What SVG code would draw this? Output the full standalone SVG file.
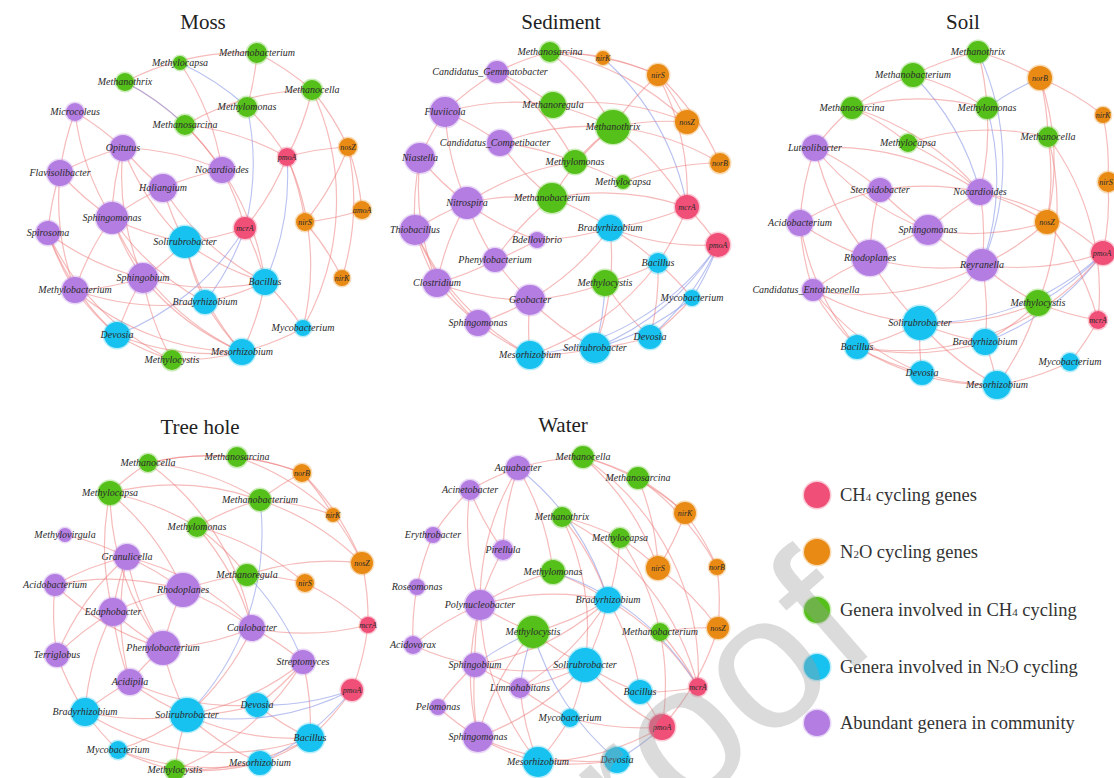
<svg xmlns="http://www.w3.org/2000/svg" width="1114" height="778" viewBox="0 0 1114 778">
<style>
.e{fill:none;stroke:#ee7777;stroke-opacity:.5;stroke-width:1.2}
.b{fill:none;stroke:#8a98e6;stroke-opacity:.6;stroke-width:1.1}
circle{stroke-width:3;stroke-opacity:.3}
.r{fill:#f04f78;stroke:#f04f78}
.o{fill:#e88a14;stroke:#e88a14}
.g{fill:#55c01a;stroke:#55c01a}
.c{fill:#18c2f0;stroke:#18c2f0}
.p{fill:#b47de2;stroke:#b47de2}
.l{font-family:"Liberation Serif",serif;font-style:italic;font-size:10px;fill:#2a2a2a;text-anchor:middle}
.gl{font-family:"Liberation Serif",serif;font-style:italic;font-size:8px;fill:#2a2a2a;text-anchor:middle}
.t{font-family:"Liberation Serif",serif;font-size:21px;fill:#222;text-anchor:middle}
.lt{font-family:"Liberation Serif",serif;font-size:18.5px;fill:#333}
</style>
<rect width="1114" height="778" fill="#fff"/>

<g id="titles">
<text class="t" x="203" y="29">Moss</text>
<text class="t" x="561" y="29">Sediment</text>
<text class="t" x="963" y="29">Soil</text>
<text class="t" x="200" y="434">Tree hole</text>
<text class="t" x="563" y="432">Water</text>
</g>

<g id="moss-edges">
<path class="e" d="M125 82A260 260 0 0 1 257 53"/>
<path class="e" d="M125 82A260 260 0 0 1 222 170"/>
<path class="b" d="M180 63A260 260 0 0 1 247 107"/>
<path class="e" d="M257 53A260 260 0 0 1 247 107"/>
<path class="e" d="M257 53A260 260 0 0 1 312 90"/>
<path class="e" d="M312 90A260 260 0 0 1 287 157"/>
<path class="e" d="M312 90A260 260 0 0 1 348 147"/>
<path class="e" d="M185 125A260 260 0 0 1 312 90"/>
<path class="e" d="M185 125A260 260 0 0 1 222 170"/>
<path class="e" d="M185 125A260 260 0 0 1 287 157"/>
<path class="b" d="M247 107A260 260 0 0 1 245 228"/>
<path class="e" d="M287 157A260 260 0 0 1 348 147"/>
<path class="e" d="M287 157A260 260 0 0 1 305 222"/>
<path class="e" d="M348 147A260 260 0 0 1 305 222"/>
<path class="e" d="M348 147A260 260 0 0 1 342 278"/>
<path class="e" d="M362 210A260 260 0 0 1 305 222"/>
<path class="e" d="M123 148A260 260 0 0 1 222 170"/>
<path class="e" d="M163 188A260 260 0 0 1 222 170"/>
<path class="e" d="M112 218A260 260 0 0 1 123 148"/>
<path class="e" d="M163 188A260 260 0 0 1 123 148"/>
<path class="e" d="M143 278A260 260 0 0 1 123 148"/>
<path class="e" d="M60 173A260 260 0 0 1 75 112"/>
<path class="e" d="M112 218A260 260 0 0 1 75 112"/>
<path class="e" d="M112 218A260 260 0 0 1 60 173"/>
<path class="e" d="M48 233A260 260 0 0 1 60 173"/>
<path class="e" d="M75 290A260 260 0 0 1 60 173"/>
<path class="e" d="M112 218A260 260 0 0 1 163 188"/>
<path class="e" d="M185 242A260 260 0 0 1 163 188"/>
<path class="e" d="M265 282A260 260 0 0 1 163 188"/>
<path class="e" d="M185 242A260 260 0 0 1 112 218"/>
<path class="e" d="M143 278A260 260 0 0 1 112 218"/>
<path class="e" d="M75 290A260 260 0 0 1 112 218"/>
<path class="e" d="M205 302A260 260 0 0 1 112 218"/>
<path class="e" d="M242 352A260 260 0 0 1 112 218"/>
<path class="e" d="M75 290A260 260 0 0 1 48 233"/>
<path class="e" d="M117 335A260 260 0 0 1 48 233"/>
<path class="e" d="M143 278A260 260 0 0 1 48 233"/>
<path class="e" d="M265 282A260 260 0 0 1 185 242"/>
<path class="e" d="M185 242A260 260 0 0 1 143 278"/>
<path class="e" d="M205 302A260 260 0 0 1 185 242"/>
<path class="e" d="M242 352A260 260 0 0 1 185 242"/>
<path class="e" d="M245 228A260 260 0 0 1 185 242"/>
<path class="e" d="M245 228A260 260 0 0 1 265 282"/>
<path class="b" d="M245 228A260 260 0 0 1 205 302"/>
<path class="b" d="M245 228A260 260 0 0 1 117 335"/>
<path class="e" d="M143 278A260 260 0 0 1 75 290"/>
<path class="e" d="M117 335A260 260 0 0 1 143 278"/>
<path class="e" d="M242 352A260 260 0 0 1 143 278"/>
<path class="e" d="M265 282A260 260 0 0 1 143 278"/>
<path class="e" d="M172 360A260 260 0 0 1 143 278"/>
<path class="e" d="M117 335A260 260 0 0 1 75 290"/>
<path class="e" d="M205 302A260 260 0 0 1 75 290"/>
<path class="e" d="M172 360A260 260 0 0 1 117 335"/>
<path class="e" d="M242 352A260 260 0 0 1 117 335"/>
<path class="e" d="M242 352A260 260 0 0 1 205 302"/>
<path class="e" d="M265 282A260 260 0 0 1 205 302"/>
<path class="e" d="M265 282A260 260 0 0 1 303 328"/>
<path class="e" d="M265 282A260 260 0 0 1 242 352"/>
<path class="e" d="M303 328A260 260 0 0 1 242 352"/>
<path class="e" d="M242 352A260 260 0 0 1 172 360"/>
<path class="e" d="M222 170A260 260 0 0 1 245 228"/>
<path class="e" d="M222 170A260 260 0 0 1 265 282"/>
<path class="e" d="M242 352A260 260 0 0 1 75 290"/>
<path class="e" d="M172 360A260 260 0 0 1 48 233"/>
<path class="e" d="M75 112A260 260 0 0 1 123 148"/>
<path class="b" d="M287 157A260 260 0 0 1 265 282"/>
<path class="e" d="M348 147A260 260 0 0 1 362 210"/>
<path class="e" d="M312 90A260 260 0 0 1 303 328"/>
<path class="e" d="M247 107A260 260 0 0 1 287 157"/>
<path class="e" d="M180 63A260 260 0 0 1 222 170"/>
<path class="b" d="M125 82A260 260 0 0 1 185 125"/>
<path class="e" d="M287 157A260 260 0 0 1 245 228"/>
<path class="e" d="M60 173A260 260 0 0 1 123 148"/>
<path class="e" d="M185 242A260 260 0 0 1 123 148"/>
<path class="e" d="M287 157A260 260 0 0 1 303 328"/>
<path class="e" d="M305 222A260 260 0 0 1 342 278"/>
</g>

<g id="sediment-edges">
<path class="e" d="M550 52A260 260 0 0 1 603 58"/>
<path class="e" d="M550 52A260 260 0 0 1 658 75"/>
<path class="e" d="M550 52A260 260 0 0 1 613 127"/>
<path class="e" d="M550 52A260 260 0 0 1 687 122"/>
<path class="e" d="M497 72A260 260 0 0 1 550 52"/>
<path class="e" d="M497 72A260 260 0 0 1 553 105"/>
<path class="e" d="M497 72A260 260 0 0 1 575 162"/>
<path class="e" d="M603 58A260 260 0 0 1 658 75"/>
<path class="b" d="M603 58A260 260 0 0 1 687 207"/>
<path class="e" d="M658 75A260 260 0 0 1 687 122"/>
<path class="e" d="M658 75A260 260 0 0 1 720 163"/>
<path class="e" d="M658 75A260 260 0 0 1 687 207"/>
<path class="e" d="M613 127A260 260 0 0 1 658 75"/>
<path class="e" d="M553 105A260 260 0 0 1 613 127"/>
<path class="e" d="M553 105A260 260 0 0 1 687 122"/>
<path class="e" d="M613 127A260 260 0 0 1 687 122"/>
<path class="e" d="M613 127A260 260 0 0 1 720 163"/>
<path class="e" d="M445 112A260 260 0 0 1 497 72"/>
<path class="e" d="M445 112A260 260 0 0 1 553 105"/>
<path class="e" d="M445 112A260 260 0 0 1 500 143"/>
<path class="e" d="M420 158A260 260 0 0 1 445 112"/>
<path class="e" d="M500 143A260 260 0 0 1 575 162"/>
<path class="e" d="M500 143A260 260 0 0 1 613 127"/>
<path class="e" d="M552 198A260 260 0 0 1 500 143"/>
<path class="e" d="M575 162A260 260 0 0 1 613 127"/>
<path class="e" d="M575 162A260 260 0 0 1 623 182"/>
<path class="e" d="M623 182A260 260 0 0 1 720 163"/>
<path class="e" d="M613 127A260 260 0 0 1 687 207"/>
<path class="e" d="M467 203A260 260 0 0 1 420 158"/>
<path class="e" d="M415 230A260 260 0 0 1 420 158"/>
<path class="e" d="M467 203A260 260 0 0 1 445 112"/>
<path class="e" d="M415 230A260 260 0 0 1 467 203"/>
<path class="e" d="M437 283A260 260 0 0 1 415 230"/>
<path class="e" d="M437 283A260 260 0 0 1 467 203"/>
<path class="e" d="M495 260A260 260 0 0 1 467 203"/>
<path class="e" d="M495 260A260 260 0 0 1 552 198"/>
<path class="e" d="M467 203A260 260 0 0 1 552 198"/>
<path class="e" d="M467 203A260 260 0 0 1 575 162"/>
<path class="e" d="M552 198A260 260 0 0 1 613 127"/>
<path class="e" d="M552 198A260 260 0 0 1 610 228"/>
<path class="e" d="M552 198A260 260 0 0 1 687 207"/>
<path class="e" d="M610 228A260 260 0 0 1 537 240"/>
<path class="e" d="M718 245A260 260 0 0 1 610 228"/>
<path class="e" d="M687 207A260 260 0 0 1 610 228"/>
<path class="e" d="M687 207A260 260 0 0 1 718 245"/>
<path class="e" d="M687 207A260 260 0 0 1 658 263"/>
<path class="e" d="M610 228A260 260 0 0 1 658 263"/>
<path class="b" d="M718 245A260 260 0 0 1 692 298"/>
<path class="b" d="M718 245A260 260 0 0 1 650 337"/>
<path class="b" d="M718 245A260 260 0 0 1 595 348"/>
<path class="e" d="M658 263A260 260 0 0 1 692 298"/>
<path class="e" d="M658 263A260 260 0 0 1 650 337"/>
<path class="e" d="M605 283A260 260 0 0 1 530 300"/>
<path class="e" d="M658 263A260 260 0 0 1 605 283"/>
<path class="e" d="M530 300A260 260 0 0 1 478 323"/>
<path class="e" d="M530 355A260 260 0 0 1 530 300"/>
<path class="e" d="M595 348A260 260 0 0 1 530 300"/>
<path class="e" d="M650 337A260 260 0 0 1 595 348"/>
<path class="e" d="M595 348A260 260 0 0 1 530 355"/>
<path class="e" d="M530 355A260 260 0 0 1 478 323"/>
<path class="e" d="M478 323A260 260 0 0 1 437 283"/>
<path class="e" d="M495 260A260 260 0 0 1 437 283"/>
<path class="e" d="M530 300A260 260 0 0 1 495 260"/>
<path class="e" d="M530 300A260 260 0 0 1 437 283"/>
<path class="e" d="M537 240A260 260 0 0 1 495 260"/>
<path class="b" d="M605 283A260 260 0 0 1 595 348"/>
<path class="e" d="M692 298A260 260 0 0 1 650 337"/>
<path class="e" d="M610 228A260 260 0 0 1 595 348"/>
<path class="e" d="M610 228A260 260 0 0 1 530 300"/>
<path class="e" d="M658 263A260 260 0 0 1 530 355"/>
<path class="e" d="M530 355A260 260 0 0 1 415 230"/>
<path class="e" d="M478 323A260 260 0 0 1 415 230"/>
<path class="e" d="M650 337A260 260 0 0 1 605 283"/>
<path class="e" d="M437 283A260 260 0 0 1 420 158"/>
<path class="e" d="M537 240A260 260 0 0 1 467 203"/>
<path class="b" d="M718 245A260 260 0 0 1 530 355"/>
<path class="b" d="M692 298A260 260 0 0 1 595 348"/>
</g>

<g id="soil-edges">
<path class="e" d="M913 75A260 260 0 0 1 978 52"/>
<path class="e" d="M852 108A260 260 0 0 1 913 75"/>
<path class="e" d="M978 52A260 260 0 0 1 1040 78"/>
<path class="e" d="M913 75A260 260 0 0 1 987 108"/>
<path class="b" d="M913 75A260 260 0 0 1 980 192"/>
<path class="e" d="M978 52A260 260 0 0 1 987 108"/>
<path class="b" d="M978 52A260 260 0 0 1 982 265"/>
<path class="e" d="M987 108A260 260 0 0 1 980 192"/>
<path class="b" d="M987 108A260 260 0 0 1 1040 78"/>
<path class="e" d="M852 108A260 260 0 0 1 908 143"/>
<path class="e" d="M852 108A260 260 0 0 1 987 108"/>
<path class="e" d="M852 108A260 260 0 0 1 980 192"/>
<path class="e" d="M908 143A260 260 0 0 1 980 192"/>
<path class="e" d="M908 143A260 260 0 0 1 1048 137"/>
<path class="e" d="M1040 78A260 260 0 0 1 1048 137"/>
<path class="e" d="M1040 78A260 260 0 0 1 1047 222"/>
<path class="e" d="M1040 78A260 260 0 0 1 1103 115"/>
<path class="e" d="M1103 115A260 260 0 0 1 1108 182"/>
<path class="e" d="M1048 137A260 260 0 0 1 1047 222"/>
<path class="e" d="M1048 137A260 260 0 0 1 1038 303"/>
<path class="e" d="M980 192A260 260 0 0 1 1047 222"/>
<path class="e" d="M980 192A260 260 0 0 1 982 265"/>
<path class="e" d="M980 192A260 260 0 0 1 1103 253"/>
<path class="e" d="M880 190A260 260 0 0 1 980 192"/>
<path class="e" d="M928 230A260 260 0 0 1 880 190"/>
<path class="e" d="M815 148A260 260 0 0 1 880 190"/>
<path class="e" d="M928 230A260 260 0 0 1 815 148"/>
<path class="e" d="M815 148A260 260 0 0 1 852 108"/>
<path class="e" d="M800 223A260 260 0 0 1 815 148"/>
<path class="e" d="M800 223A260 260 0 0 1 880 190"/>
<path class="e" d="M813 290A260 260 0 0 1 800 223"/>
<path class="e" d="M870 258A260 260 0 0 1 800 223"/>
<path class="e" d="M870 258A260 260 0 0 1 880 190"/>
<path class="e" d="M870 258A260 260 0 0 1 928 230"/>
<path class="e" d="M928 230A260 260 0 0 1 980 192"/>
<path class="e" d="M1047 222A260 260 0 0 1 928 230"/>
<path class="e" d="M982 265A260 260 0 0 1 928 230"/>
<path class="e" d="M982 265A260 260 0 0 1 870 258"/>
<path class="e" d="M982 265A260 260 0 0 1 813 290"/>
<path class="e" d="M1047 222A260 260 0 0 1 982 265"/>
<path class="e" d="M1103 253A260 260 0 0 1 982 265"/>
<path class="b" d="M1103 253A260 260 0 0 1 1038 303"/>
<path class="b" d="M1103 253A260 260 0 0 1 920 323"/>
<path class="b" d="M1103 253A260 260 0 0 1 985 342"/>
<path class="e" d="M1103 253A260 260 0 0 1 857 347"/>
<path class="e" d="M1098 320A260 260 0 0 1 1038 303"/>
<path class="e" d="M1038 303A260 260 0 0 1 982 265"/>
<path class="e" d="M1038 303A260 260 0 0 1 920 323"/>
<path class="e" d="M1038 303A260 260 0 0 1 985 342"/>
<path class="e" d="M1070 362A260 260 0 0 1 997 385"/>
<path class="e" d="M1098 320A260 260 0 0 1 1070 362"/>
<path class="e" d="M982 265A260 260 0 0 1 920 323"/>
<path class="e" d="M982 265A260 260 0 0 1 985 342"/>
<path class="e" d="M920 323A260 260 0 0 1 870 258"/>
<path class="e" d="M920 323A260 260 0 0 1 857 347"/>
<path class="e" d="M920 323A260 260 0 0 1 813 290"/>
<path class="e" d="M985 342A260 260 0 0 1 920 323"/>
<path class="e" d="M985 342A260 260 0 0 1 857 347"/>
<path class="e" d="M922 373A260 260 0 0 1 920 323"/>
<path class="e" d="M922 373A260 260 0 0 1 857 347"/>
<path class="e" d="M997 385A260 260 0 0 1 922 373"/>
<path class="e" d="M997 385A260 260 0 0 1 920 323"/>
<path class="e" d="M985 342A260 260 0 0 1 997 385"/>
<path class="e" d="M857 347A260 260 0 0 1 813 290"/>
<path class="e" d="M857 347A260 260 0 0 1 800 223"/>
<path class="e" d="M922 373A260 260 0 0 1 813 290"/>
<path class="e" d="M997 385A260 260 0 0 1 857 347"/>
<path class="e" d="M813 290A260 260 0 0 1 870 258"/>
<path class="e" d="M1108 182A260 260 0 0 1 1103 253"/>
<path class="e" d="M1047 222A260 260 0 0 1 1098 320"/>
<path class="e" d="M870 258A260 260 0 0 1 815 148"/>
<path class="e" d="M1038 303A260 260 0 0 1 997 385"/>
<path class="e" d="M1048 137A260 260 0 0 1 1098 320"/>
<path class="b" d="M987 108A260 260 0 0 1 982 265"/>
<path class="e" d="M815 148A260 260 0 0 1 980 192"/>
</g>

<g id="treehole-edges">
<path class="e" d="M148 463A260 260 0 0 1 237 457"/>
<path class="e" d="M148 463A260 260 0 0 1 302 473"/>
<path class="e" d="M110 493A260 260 0 0 1 148 463"/>
<path class="e" d="M110 493A260 260 0 0 1 197 527"/>
<path class="e" d="M110 493A260 260 0 0 1 260 500"/>
<path class="e" d="M110 493A260 260 0 0 1 183 590"/>
<path class="e" d="M163 648A260 260 0 0 1 110 493"/>
<path class="e" d="M148 463A260 260 0 0 1 260 500"/>
<path class="e" d="M148 463A260 260 0 0 1 252 628"/>
<path class="e" d="M237 457A260 260 0 0 1 302 473"/>
<path class="e" d="M237 457A260 260 0 0 1 333 515"/>
<path class="e" d="M260 500A260 260 0 0 1 302 473"/>
<path class="e" d="M260 500A260 260 0 0 1 333 515"/>
<path class="e" d="M260 500A260 260 0 0 1 362 563"/>
<path class="e" d="M197 527A260 260 0 0 1 260 500"/>
<path class="e" d="M197 527A260 260 0 0 1 247 575"/>
<path class="e" d="M197 527A260 260 0 0 1 305 583"/>
<path class="e" d="M197 527A260 260 0 0 1 252 628"/>
<path class="e" d="M302 473A260 260 0 0 1 362 563"/>
<path class="e" d="M302 473A260 260 0 0 1 333 515"/>
<path class="e" d="M333 515A260 260 0 0 1 362 563"/>
<path class="e" d="M247 575A260 260 0 0 1 305 583"/>
<path class="e" d="M247 575A260 260 0 0 1 362 563"/>
<path class="b" d="M247 575A260 260 0 0 1 303 662"/>
<path class="b" d="M260 500A260 260 0 0 1 187 715"/>
<path class="e" d="M65 535A260 260 0 0 1 127 557"/>
<path class="e" d="M127 557A260 260 0 0 1 183 590"/>
<path class="e" d="M55 585A260 260 0 0 1 127 557"/>
<path class="e" d="M113 612A260 260 0 0 1 127 557"/>
<path class="e" d="M57 655A260 260 0 0 1 127 557"/>
<path class="e" d="M163 648A260 260 0 0 1 127 557"/>
<path class="e" d="M130 682A260 260 0 0 1 127 557"/>
<path class="e" d="M113 612A260 260 0 0 1 183 590"/>
<path class="e" d="M55 585A260 260 0 0 1 183 590"/>
<path class="e" d="M163 648A260 260 0 0 1 183 590"/>
<path class="e" d="M183 590A260 260 0 0 1 252 628"/>
<path class="e" d="M183 590A260 260 0 0 1 247 575"/>
<path class="e" d="M163 648A260 260 0 0 1 55 585"/>
<path class="e" d="M57 655A260 260 0 0 1 55 585"/>
<path class="e" d="M57 655A260 260 0 0 1 113 612"/>
<path class="e" d="M130 682A260 260 0 0 1 113 612"/>
<path class="e" d="M163 648A260 260 0 0 1 113 612"/>
<path class="e" d="M85 712A260 260 0 0 1 113 612"/>
<path class="e" d="M187 715A260 260 0 0 1 163 648"/>
<path class="e" d="M252 628A260 260 0 0 1 163 648"/>
<path class="e" d="M130 682A260 260 0 0 1 163 648"/>
<path class="e" d="M85 712A260 260 0 0 1 57 655"/>
<path class="e" d="M85 712A260 260 0 0 1 130 682"/>
<path class="e" d="M187 715A260 260 0 0 1 130 682"/>
<path class="e" d="M187 715A260 260 0 0 1 85 712"/>
<path class="e" d="M257 705A260 260 0 0 1 187 715"/>
<path class="e" d="M310 738A260 260 0 0 1 187 715"/>
<path class="e" d="M260 763A260 260 0 0 1 187 715"/>
<path class="e" d="M187 715A260 260 0 0 1 118 750"/>
<path class="e" d="M175 770A260 260 0 0 1 187 715"/>
<path class="e" d="M118 750A260 260 0 0 1 85 712"/>
<path class="e" d="M260 763A260 260 0 0 1 175 770"/>
<path class="e" d="M310 738A260 260 0 0 1 260 763"/>
<path class="e" d="M310 738A260 260 0 0 1 257 705"/>
<path class="e" d="M303 662A260 260 0 0 1 257 705"/>
<path class="e" d="M303 662A260 260 0 0 1 310 738"/>
<path class="e" d="M352 690A260 260 0 0 1 310 738"/>
<path class="b" d="M352 690A260 260 0 0 1 257 705"/>
<path class="b" d="M352 690A260 260 0 0 1 187 715"/>
<path class="e" d="M368 625A260 260 0 0 1 352 690"/>
<path class="e" d="M362 563A260 260 0 0 1 368 625"/>
<path class="e" d="M305 583A260 260 0 0 1 368 625"/>
<path class="e" d="M252 628A260 260 0 0 1 303 662"/>
<path class="e" d="M368 625A260 260 0 0 1 252 628"/>
<path class="e" d="M310 738A260 260 0 0 1 175 770"/>
<path class="e" d="M310 738A260 260 0 0 1 85 712"/>
<path class="e" d="M260 763A260 260 0 0 1 118 750"/>
<path class="e" d="M175 770A260 260 0 0 1 118 750"/>
<path class="e" d="M257 705A260 260 0 0 1 130 682"/>
<path class="e" d="M252 628A260 260 0 0 1 187 715"/>
<path class="e" d="M303 662A260 260 0 0 1 187 715"/>
<path class="e" d="M127 557A260 260 0 0 1 252 628"/>
<path class="e" d="M113 612A260 260 0 0 1 110 493"/>
<path class="b" d="M352 690A260 260 0 0 1 260 763"/>
<path class="e" d="M303 662A260 260 0 0 1 175 770"/>
</g>

<g id="water-edges">
<path class="e" d="M583 457A260 260 0 0 1 638 478"/>
<path class="e" d="M583 457A260 260 0 0 1 685 513"/>
<path class="e" d="M583 457A260 260 0 0 1 658 568"/>
<path class="e" d="M583 457A260 260 0 0 1 698 687"/>
<path class="e" d="M638 478A260 260 0 0 1 685 513"/>
<path class="e" d="M638 478A260 260 0 0 1 658 568"/>
<path class="e" d="M638 478A260 260 0 0 1 717 567"/>
<path class="e" d="M518 468A260 260 0 0 1 583 457"/>
<path class="e" d="M470 490A260 260 0 0 1 518 468"/>
<path class="e" d="M433 535A260 260 0 0 1 470 490"/>
<path class="e" d="M503 550A260 260 0 0 1 470 490"/>
<path class="e" d="M503 550A260 260 0 0 1 518 468"/>
<path class="e" d="M518 468A260 260 0 0 1 553 572"/>
<path class="b" d="M518 468A260 260 0 0 1 608 600"/>
<path class="e" d="M480 605A260 260 0 0 1 518 468"/>
<path class="e" d="M562 517A260 260 0 0 1 608 600"/>
<path class="e" d="M562 517A260 260 0 0 1 585 665"/>
<path class="e" d="M562 517A260 260 0 0 1 620 538"/>
<path class="e" d="M620 538A260 260 0 0 1 658 568"/>
<path class="e" d="M620 538A260 260 0 0 1 608 600"/>
<path class="e" d="M620 538A260 260 0 0 1 660 632"/>
<path class="e" d="M685 513A260 260 0 0 1 658 568"/>
<path class="e" d="M685 513A260 260 0 0 1 717 567"/>
<path class="e" d="M717 567A260 260 0 0 1 718 628"/>
<path class="e" d="M658 568A260 260 0 0 1 718 628"/>
<path class="e" d="M660 632A260 260 0 0 1 698 687"/>
<path class="e" d="M417 587A260 260 0 0 1 433 535"/>
<path class="e" d="M413 645A260 260 0 0 1 417 587"/>
<path class="e" d="M480 605A260 260 0 0 1 470 490"/>
<path class="e" d="M480 605A260 260 0 0 1 503 550"/>
<path class="e" d="M480 605A260 260 0 0 1 553 572"/>
<path class="e" d="M533 632A260 260 0 0 1 480 605"/>
<path class="e" d="M553 572A260 260 0 0 1 608 600"/>
<path class="e" d="M480 605A260 260 0 0 1 608 600"/>
<path class="e" d="M608 600A260 260 0 0 1 533 632"/>
<path class="e" d="M608 600A260 260 0 0 1 585 665"/>
<path class="e" d="M608 600A260 260 0 0 1 640 692"/>
<path class="e" d="M608 600A260 260 0 0 1 698 687"/>
<path class="e" d="M608 600A260 260 0 0 1 520 688"/>
<path class="e" d="M608 600A260 260 0 0 1 475 665"/>
<path class="b" d="M520 688A260 260 0 0 1 533 632"/>
<path class="b" d="M475 665A260 260 0 0 1 533 632"/>
<path class="e" d="M585 665A260 260 0 0 1 533 632"/>
<path class="e" d="M478 737A260 260 0 0 1 533 632"/>
<path class="e" d="M585 665A260 260 0 0 1 520 688"/>
<path class="e" d="M585 665A260 260 0 0 1 478 737"/>
<path class="e" d="M585 665A260 260 0 0 1 475 665"/>
<path class="e" d="M585 665A260 260 0 0 1 570 718"/>
<path class="e" d="M640 692A260 260 0 0 1 585 665"/>
<path class="e" d="M698 687A260 260 0 0 1 640 692"/>
<path class="e" d="M662 727A260 260 0 0 1 585 665"/>
<path class="b" d="M662 727A260 260 0 0 1 617 760"/>
<path class="e" d="M662 727A260 260 0 0 1 570 718"/>
<path class="e" d="M662 727A260 260 0 0 1 538 762"/>
<path class="e" d="M640 692A260 260 0 0 1 662 727"/>
<path class="e" d="M617 760A260 260 0 0 1 478 737"/>
<path class="e" d="M538 762A260 260 0 0 1 478 737"/>
<path class="e" d="M570 718A260 260 0 0 1 538 762"/>
<path class="e" d="M478 737A260 260 0 0 1 438 707"/>
<path class="e" d="M478 737A260 260 0 0 1 475 665"/>
<path class="e" d="M520 688A260 260 0 0 1 475 665"/>
<path class="e" d="M538 762A260 260 0 0 1 520 688"/>
<path class="e" d="M475 665A260 260 0 0 1 413 645"/>
<path class="e" d="M475 665A260 260 0 0 1 480 605"/>
<path class="e" d="M438 707A260 260 0 0 1 475 665"/>
<path class="e" d="M413 645A260 260 0 0 1 480 605"/>
<path class="e" d="M660 632A260 260 0 0 1 662 727"/>
<path class="e" d="M617 760A260 260 0 0 1 538 762"/>
<path class="e" d="M570 718A260 260 0 0 1 520 688"/>
<path class="e" d="M718 628A260 260 0 0 1 662 727"/>
<path class="e" d="M660 632A260 260 0 0 1 718 628"/>
<path class="e" d="M538 762A260 260 0 0 1 480 605"/>
<path class="e" d="M478 737A260 260 0 0 1 480 605"/>
<path class="b" d="M553 572A260 260 0 0 1 698 687"/>
<path class="b" d="M617 760A260 260 0 0 1 533 632"/>
<path class="e" d="M562 517A260 260 0 0 1 698 687"/>
</g>

<g id="moss-nodes">
<g id="moss-methanobacterium"><circle class="g" cx="257" cy="53" r="10"/><text class="l" x="257" y="56">Methanobacterium</text></g>
<g id="moss-methylocapsa"><circle class="g" cx="180" cy="63" r="7"/><text class="l" x="180" y="66">Methylocapsa</text></g>
<g id="moss-methanothrix"><circle class="g" cx="125" cy="82" r="9"/><text class="l" x="125" y="85">Methanothrix</text></g>
<g id="moss-methanocella"><circle class="g" cx="312" cy="90" r="10"/><text class="l" x="312" y="93">Methanocella</text></g>
<g id="moss-methylomonas"><circle class="g" cx="247" cy="107" r="10"/><text class="l" x="247" y="110">Methylomonas</text></g>
<g id="moss-methanosarcina"><circle class="g" cx="185" cy="125" r="10"/><text class="l" x="185" y="128">Methanosarcina</text></g>
<g id="moss-microcoleus"><circle class="p" cx="75" cy="112" r="9"/><text class="l" x="75" y="115">Microcoleus</text></g>
<g id="moss-opitutus"><circle class="p" cx="123" cy="148" r="13"/><text class="l" x="123" y="151">Opitutus</text></g>
<g id="moss-pmoa"><circle class="r" cx="287" cy="157" r="9"/><text class="gl" x="287" y="160">pmoA</text></g>
<g id="moss-nosz"><circle class="o" cx="348" cy="147" r="9"/><text class="gl" x="348" y="150">nosZ</text></g>
<g id="moss-nocardioides"><circle class="p" cx="222" cy="170" r="13"/><text class="l" x="222" y="173">Nocardioides</text></g>
<g id="moss-flavisolibacter"><circle class="p" cx="60" cy="173" r="13"/><text class="l" x="60" y="176">Flavisolibacter</text></g>
<g id="moss-haliangium"><circle class="p" cx="163" cy="188" r="14"/><text class="l" x="163" y="191">Haliangium</text></g>
<g id="moss-sphingomonas"><circle class="p" cx="112" cy="218" r="16"/><text class="l" x="112" y="221">Sphingomonas</text></g>
<g id="moss-spirosoma"><circle class="p" cx="48" cy="233" r="12"/><text class="l" x="48" y="236">Spirosoma</text></g>
<g id="moss-mcra"><circle class="r" cx="245" cy="228" r="11"/><text class="gl" x="245" y="231">mcrA</text></g>
<g id="moss-nirs"><circle class="o" cx="305" cy="222" r="9"/><text class="gl" x="305" y="225">nirS</text></g>
<g id="moss-amoa"><circle class="o" cx="362" cy="210" r="9"/><text class="gl" x="362" y="213">amoA</text></g>
<g id="moss-solirubrobacter"><circle class="c" cx="185" cy="242" r="16"/><text class="l" x="185" y="245">Solirubrobacter</text></g>
<g id="moss-sphingobium"><circle class="p" cx="143" cy="278" r="15"/><text class="l" x="143" y="281">Sphingobium</text></g>
<g id="moss-methylobacterium"><circle class="p" cx="75" cy="290" r="13"/><text class="l" x="75" y="293">Methylobacterium</text></g>
<g id="moss-bacillus"><circle class="c" cx="265" cy="282" r="13"/><text class="l" x="265" y="285">Bacillus</text></g>
<g id="moss-nirk"><circle class="o" cx="342" cy="278" r="8"/><text class="gl" x="342" y="281">nirK</text></g>
<g id="moss-bradyrhizobium"><circle class="c" cx="205" cy="302" r="12"/><text class="l" x="205" y="305">Bradyrhizobium</text></g>
<g id="moss-mycobacterium"><circle class="c" cx="303" cy="328" r="8"/><text class="l" x="303" y="331">Mycobacterium</text></g>
<g id="moss-devosia"><circle class="c" cx="117" cy="335" r="13"/><text class="l" x="117" y="338">Devosia</text></g>
<g id="moss-methylocystis"><circle class="g" cx="172" cy="360" r="10"/><text class="l" x="172" y="363">Methylocystis</text></g>
<g id="moss-mesorhizobium"><circle class="c" cx="242" cy="352" r="13"/><text class="l" x="242" y="355">Mesorhizobium</text></g>
</g>

<g id="sediment-nodes">
<g id="sed-methanosarcina"><circle class="g" cx="550" cy="52" r="10"/><text class="l" x="550" y="55">Methanosarcina</text></g>
<g id="sed-nirk"><circle class="o" cx="603" cy="58" r="7"/><text class="gl" x="603" y="61">nirK</text></g>
<g id="sed-gemmatobacter"><circle class="p" cx="497" cy="72" r="11"/><text class="l" x="490" y="75">Candidatus_Gemmatobacter</text></g>
<g id="sed-nirs"><circle class="o" cx="658" cy="75" r="11"/><text class="gl" x="658" y="78">nirS</text></g>
<g id="sed-fluviicola"><circle class="p" cx="445" cy="112" r="15"/><text class="l" x="445" y="115">Fluviicola</text></g>
<g id="sed-methanoregula"><circle class="g" cx="553" cy="105" r="13"/><text class="l" x="553" y="108">Methanoregula</text></g>
<g id="sed-methanothrix"><circle class="g" cx="613" cy="127" r="17"/><text class="l" x="613" y="130">Methanothrix</text></g>
<g id="sed-nosz"><circle class="o" cx="687" cy="122" r="12"/><text class="gl" x="687" y="125">nosZ</text></g>
<g id="sed-competibacter"><circle class="p" cx="500" cy="143" r="13"/><text class="l" x="495" y="146">Candidatus_Competibacter</text></g>
<g id="sed-methylomonas"><circle class="g" cx="575" cy="162" r="12"/><text class="l" x="575" y="165">Methylomonas</text></g>
<g id="sed-norb"><circle class="o" cx="720" cy="163" r="10"/><text class="gl" x="720" y="166">norB</text></g>
<g id="sed-niastella"><circle class="p" cx="420" cy="158" r="15"/><text class="l" x="420" y="161">Niastella</text></g>
<g id="sed-methylocapsa"><circle class="g" cx="623" cy="182" r="7"/><text class="l" x="623" y="185">Methylocapsa</text></g>
<g id="sed-methanobacterium"><circle class="g" cx="552" cy="198" r="15"/><text class="l" x="552" y="201">Methanobacterium</text></g>
<g id="sed-nitrospira"><circle class="p" cx="467" cy="203" r="16"/><text class="l" x="467" y="206">Nitrospira</text></g>
<g id="sed-mcra"><circle class="r" cx="687" cy="207" r="12"/><text class="gl" x="687" y="210">mcrA</text></g>
<g id="sed-thiobacillus"><circle class="p" cx="415" cy="230" r="15"/><text class="l" x="415" y="233">Thiobacillus</text></g>
<g id="sed-bradyrhizobium"><circle class="c" cx="610" cy="228" r="13"/><text class="l" x="610" y="231">Bradyrhizobium</text></g>
<g id="sed-bdellovibrio"><circle class="p" cx="537" cy="240" r="8"/><text class="l" x="537" y="243">Bdellovibrio</text></g>
<g id="sed-pmoa"><circle class="r" cx="718" cy="245" r="12"/><text class="gl" x="718" y="248">pmoA</text></g>
<g id="sed-phenylobacterium"><circle class="p" cx="495" cy="260" r="12"/><text class="l" x="495" y="263">Phenylobacterium</text></g>
<g id="sed-bacillus"><circle class="c" cx="658" cy="263" r="10"/><text class="l" x="658" y="266">Bacillus</text></g>
<g id="sed-clostridium"><circle class="p" cx="437" cy="283" r="14"/><text class="l" x="437" y="286">Clostridium</text></g>
<g id="sed-methylocystis"><circle class="g" cx="605" cy="283" r="13"/><text class="l" x="605" y="286">Methylocystis</text></g>
<g id="sed-mycobacterium"><circle class="c" cx="692" cy="298" r="8"/><text class="l" x="692" y="301">Mycobacterium</text></g>
<g id="sed-geobacter"><circle class="p" cx="530" cy="300" r="15"/><text class="l" x="530" y="303">Geobacter</text></g>
<g id="sed-sphingomonas"><circle class="p" cx="478" cy="323" r="13"/><text class="l" x="478" y="326">Sphingomonas</text></g>
<g id="sed-devosia"><circle class="c" cx="650" cy="337" r="12"/><text class="l" x="650" y="340">Devosia</text></g>
<g id="sed-solirubrobacter"><circle class="c" cx="595" cy="348" r="15"/><text class="l" x="595" y="351">Solirubrobacter</text></g>
<g id="sed-mesorhizobium"><circle class="c" cx="530" cy="355" r="14"/><text class="l" x="530" y="358">Mesorhizobium</text></g>
</g>

<g id="soil-nodes">
<g id="soil-methanothrix"><circle class="g" cx="978" cy="52" r="11"/><text class="l" x="978" y="55">Methanothrix</text></g>
<g id="soil-methanobacterium"><circle class="g" cx="913" cy="75" r="12"/><text class="l" x="913" y="78">Methanobacterium</text></g>
<g id="soil-norb"><circle class="o" cx="1040" cy="78" r="12"/><text class="gl" x="1040" y="81">norB</text></g>
<g id="soil-methanosarcina"><circle class="g" cx="852" cy="108" r="11"/><text class="l" x="852" y="111">Methanosarcina</text></g>
<g id="soil-methylomonas"><circle class="g" cx="987" cy="108" r="11"/><text class="l" x="987" y="111">Methylomonas</text></g>
<g id="soil-nirk"><circle class="o" cx="1103" cy="115" r="8"/><text class="gl" x="1103" y="118">nirK</text></g>
<g id="soil-methylocapsa"><circle class="g" cx="908" cy="143" r="9"/><text class="l" x="908" y="146">Methylocapsa</text></g>
<g id="soil-methanocella"><circle class="g" cx="1048" cy="137" r="10"/><text class="l" x="1048" y="140">Methanocella</text></g>
<g id="soil-luteolibacter"><circle class="p" cx="815" cy="148" r="13"/><text class="l" x="815" y="151">Luteolibacter</text></g>
<g id="soil-nirs"><circle class="o" cx="1108" cy="182" r="10"/><text class="gl" x="1106" y="185">nirS</text></g>
<g id="soil-steroidobacter"><circle class="p" cx="880" cy="190" r="12"/><text class="l" x="880" y="193">Steroidobacter</text></g>
<g id="soil-nocardioides"><circle class="p" cx="980" cy="192" r="13"/><text class="l" x="980" y="195">Nocardioides</text></g>
<g id="soil-acidobacterium"><circle class="p" cx="800" cy="223" r="13"/><text class="l" x="800" y="226">Acidobacterium</text></g>
<g id="soil-sphingomonas"><circle class="p" cx="928" cy="230" r="15"/><text class="l" x="928" y="233">Sphingomonas</text></g>
<g id="soil-nosz"><circle class="o" cx="1047" cy="222" r="12"/><text class="gl" x="1047" y="225">nosZ</text></g>
<g id="soil-rhodoplanes"><circle class="p" cx="870" cy="258" r="18"/><text class="l" x="870" y="261">Rhodoplanes</text></g>
<g id="soil-reyranella"><circle class="p" cx="982" cy="265" r="16"/><text class="l" x="982" y="268">Reyranella</text></g>
<g id="soil-pmoa"><circle class="r" cx="1103" cy="253" r="12"/><text class="gl" x="1102" y="256">pmoA</text></g>
<g id="soil-entotheonella"><circle class="p" cx="813" cy="290" r="11"/><text class="l" x="806" y="293">Candidatus_Entotheonella</text></g>
<g id="soil-methylocystis"><circle class="g" cx="1038" cy="303" r="13"/><text class="l" x="1038" y="306">Methylocystis</text></g>
<g id="soil-mcra"><circle class="r" cx="1098" cy="320" r="9"/><text class="gl" x="1098" y="323">mcrA</text></g>
<g id="soil-solirubrobacter"><circle class="c" cx="920" cy="323" r="17"/><text class="l" x="920" y="326">Solirubrobacter</text></g>
<g id="soil-bradyrhizobium"><circle class="c" cx="985" cy="342" r="13"/><text class="l" x="985" y="345">Bradyrhizobium</text></g>
<g id="soil-bacillus"><circle class="c" cx="857" cy="347" r="12"/><text class="l" x="857" y="350">Bacillus</text></g>
<g id="soil-mycobacterium"><circle class="c" cx="1070" cy="362" r="9"/><text class="l" x="1070" y="365">Mycobacterium</text></g>
<g id="soil-devosia"><circle class="c" cx="922" cy="373" r="12"/><text class="l" x="922" y="376">Devosia</text></g>
<g id="soil-mesorhizobium"><circle class="c" cx="997" cy="385" r="14"/><text class="l" x="997" y="388">Mesorhizobium</text></g>
</g>

<g id="treehole-nodes">
<g id="th-methanocella"><circle class="g" cx="148" cy="463" r="9"/><text class="l" x="148" y="466">Methanocella</text></g>
<g id="th-methanosarcina"><circle class="g" cx="237" cy="457" r="10"/><text class="l" x="237" y="460">Methanosarcina</text></g>
<g id="th-norb"><circle class="o" cx="302" cy="473" r="9"/><text class="gl" x="302" y="476">norB</text></g>
<g id="th-methylocapsa"><circle class="g" cx="110" cy="493" r="12"/><text class="l" x="110" y="496">Methylocapsa</text></g>
<g id="th-methanobacterium"><circle class="g" cx="260" cy="500" r="11"/><text class="l" x="260" y="503">Methanobacterium</text></g>
<g id="th-nirk"><circle class="o" cx="333" cy="515" r="7"/><text class="gl" x="333" y="518">nirK</text></g>
<g id="th-methylomonas"><circle class="g" cx="197" cy="527" r="10"/><text class="l" x="197" y="530">Methylomonas</text></g>
<g id="th-methylovirgula"><circle class="p" cx="65" cy="535" r="7"/><text class="l" x="65" y="538">Methylovirgula</text></g>
<g id="th-granulicella"><circle class="p" cx="127" cy="557" r="13"/><text class="l" x="127" y="560">Granulicella</text></g>
<g id="th-nosz"><circle class="o" cx="362" cy="563" r="11"/><text class="gl" x="362" y="566">nosZ</text></g>
<g id="th-methanoregula"><circle class="g" cx="247" cy="575" r="11"/><text class="l" x="247" y="578">Methanoregula</text></g>
<g id="th-nirs"><circle class="o" cx="305" cy="583" r="9"/><text class="gl" x="305" y="586">nirS</text></g>
<g id="th-acidobacterium"><circle class="p" cx="55" cy="585" r="11"/><text class="l" x="55" y="588">Acidobacterium</text></g>
<g id="th-rhodoplanes"><circle class="p" cx="183" cy="590" r="17"/><text class="l" x="183" y="593">Rhodoplanes</text></g>
<g id="th-edaphobacter"><circle class="p" cx="113" cy="612" r="14"/><text class="l" x="113" y="615">Edaphobacter</text></g>
<g id="th-caulobacter"><circle class="p" cx="252" cy="628" r="13"/><text class="l" x="252" y="631">Caulobacter</text></g>
<g id="th-mcra"><circle class="r" cx="368" cy="625" r="8"/><text class="gl" x="368" y="628">mcrA</text></g>
<g id="th-phenylobacterium"><circle class="p" cx="163" cy="648" r="17"/><text class="l" x="163" y="651">Phenylobacterium</text></g>
<g id="th-terriglobus"><circle class="p" cx="57" cy="655" r="12"/><text class="l" x="57" y="658">Terriglobus</text></g>
<g id="th-streptomyces"><circle class="p" cx="303" cy="662" r="12"/><text class="l" x="303" y="665">Streptomyces</text></g>
<g id="th-acidipila"><circle class="p" cx="130" cy="682" r="13"/><text class="l" x="130" y="685">Acidipila</text></g>
<g id="th-pmoa"><circle class="r" cx="352" cy="690" r="11"/><text class="gl" x="352" y="693">pmoA</text></g>
<g id="th-bradyrhizobium"><circle class="c" cx="85" cy="712" r="14"/><text class="l" x="85" y="715">Bradyrhizobium</text></g>
<g id="th-solirubrobacter"><circle class="c" cx="187" cy="715" r="17"/><text class="l" x="187" y="718">Solirubrobacter</text></g>
<g id="th-devosia"><circle class="c" cx="257" cy="705" r="12"/><text class="l" x="257" y="708">Devosia</text></g>
<g id="th-bacillus"><circle class="c" cx="310" cy="738" r="14"/><text class="l" x="310" y="741">Bacillus</text></g>
<g id="th-mycobacterium"><circle class="c" cx="118" cy="750" r="9"/><text class="l" x="118" y="753">Mycobacterium</text></g>
<g id="th-methylocystis"><circle class="g" cx="175" cy="770" r="10"/><text class="l" x="175" y="773">Methylocystis</text></g>
<g id="th-mesorhizobium"><circle class="c" cx="260" cy="763" r="12"/><text class="l" x="260" y="766">Mesorhizobium</text></g>
</g>

<g id="water-nodes">
<g id="w-methanocella"><circle class="g" cx="583" cy="457" r="11"/><text class="l" x="583" y="460">Methanocella</text></g>
<g id="w-aquabacter"><circle class="p" cx="518" cy="468" r="12"/><text class="l" x="518" y="471">Aquabacter</text></g>
<g id="w-methanosarcina"><circle class="g" cx="638" cy="478" r="11"/><text class="l" x="638" y="481">Methanosarcina</text></g>
<g id="w-acinetobacter"><circle class="p" cx="470" cy="490" r="10"/><text class="l" x="470" y="493">Acinetobacter</text></g>
<g id="w-nirk"><circle class="o" cx="685" cy="513" r="11"/><text class="gl" x="685" y="516">nirK</text></g>
<g id="w-methanothrix"><circle class="g" cx="562" cy="517" r="10"/><text class="l" x="562" y="520">Methanothrix</text></g>
<g id="w-erythrobacter"><circle class="p" cx="433" cy="535" r="8"/><text class="l" x="433" y="538">Erythrobacter</text></g>
<g id="w-methylocapsa"><circle class="g" cx="620" cy="538" r="10"/><text class="l" x="620" y="541">Methylocapsa</text></g>
<g id="w-pirellula"><circle class="p" cx="503" cy="550" r="10"/><text class="l" x="503" y="553">Pirellula</text></g>
<g id="w-nirs"><circle class="o" cx="658" cy="568" r="12"/><text class="gl" x="658" y="571">nirS</text></g>
<g id="w-norb"><circle class="o" cx="717" cy="567" r="8"/><text class="gl" x="717" y="570">norB</text></g>
<g id="w-methylomonas"><circle class="g" cx="553" cy="572" r="12"/><text class="l" x="553" y="575">Methylomonas</text></g>
<g id="w-roseomonas"><circle class="p" cx="417" cy="587" r="8"/><text class="l" x="417" y="590">Roseomonas</text></g>
<g id="w-polynucleobacter"><circle class="p" cx="480" cy="605" r="15"/><text class="l" x="480" y="608">Polynucleobacter</text></g>
<g id="w-bradyrhizobium"><circle class="c" cx="608" cy="600" r="13"/><text class="l" x="608" y="603">Bradyrhizobium</text></g>
<g id="w-methylocystis"><circle class="g" cx="533" cy="632" r="16"/><text class="l" x="533" y="635">Methylocystis</text></g>
<g id="w-methanobacterium"><circle class="g" cx="660" cy="632" r="9"/><text class="l" x="660" y="635">Methanobacterium</text></g>
<g id="w-nosz"><circle class="o" cx="718" cy="628" r="11"/><text class="gl" x="718" y="631">nosZ</text></g>
<g id="w-acidovorax"><circle class="p" cx="413" cy="645" r="9"/><text class="l" x="413" y="648">Acidovorax</text></g>
<g id="w-sphingobium"><circle class="p" cx="475" cy="665" r="12"/><text class="l" x="475" y="668">Sphingobium</text></g>
<g id="w-solirubrobacter"><circle class="c" cx="585" cy="665" r="17"/><text class="l" x="585" y="668">Solirubrobacter</text></g>
<g id="w-limnohabitans"><circle class="p" cx="520" cy="688" r="10"/><text class="l" x="520" y="691">Limnohabitans</text></g>
<g id="w-bacillus"><circle class="c" cx="640" cy="692" r="12"/><text class="l" x="640" y="695">Bacillus</text></g>
<g id="w-mcra"><circle class="r" cx="698" cy="687" r="9"/><text class="gl" x="698" y="690">mcrA</text></g>
<g id="w-pelomonas"><circle class="p" cx="438" cy="707" r="8"/><text class="l" x="438" y="710">Pelomonas</text></g>
<g id="w-mycobacterium"><circle class="c" cx="570" cy="718" r="9"/><text class="l" x="570" y="721">Mycobacterium</text></g>
<g id="w-pmoa"><circle class="r" cx="662" cy="727" r="13"/><text class="gl" x="662" y="730">pmoA</text></g>
<g id="w-sphingomonas"><circle class="p" cx="478" cy="737" r="15"/><text class="l" x="478" y="740">Sphingomonas</text></g>
<g id="w-mesorhizobium"><circle class="c" cx="538" cy="762" r="15"/><text class="l" x="538" y="765">Mesorhizobium</text></g>
<g id="w-devosia"><circle class="c" cx="617" cy="760" r="13"/><text class="l" x="617" y="763">Devosia</text></g>
</g>

<g id="legend">
<g id="legend-ch4-genes"><circle class="r" cx="817" cy="495" r="13"/><text class="lt" x="840" y="501">CH<tspan font-size="11">4</tspan> cycling genes</text></g>
<g id="legend-n2o-genes"><circle class="o" cx="817" cy="552" r="13"/><text class="lt" x="840" y="558">N<tspan font-size="11">2</tspan>O cycling genes</text></g>
<g id="legend-ch4-genera"><circle class="g" cx="817" cy="610" r="13"/><text class="lt" x="840" y="616">Genera involved in CH<tspan font-size="11">4</tspan> cycling</text></g>
<g id="legend-n2o-genera"><circle class="c" cx="817" cy="667" r="13"/><text class="lt" x="840" y="673">Genera involved in N<tspan font-size="11">2</tspan>O cycling</text></g>
<g id="legend-abundant"><circle class="p" cx="817" cy="723" r="13"/><text class="lt" x="840" y="729">Abundant genera in community</text></g>
</g>

<g id="watermark">
<text transform="translate(635,859) rotate(-41)" font-family="Liberation Sans, sans-serif" font-size="190" fill="#9a9a9a" fill-opacity=".36">roof</text>
</g>
</svg>
